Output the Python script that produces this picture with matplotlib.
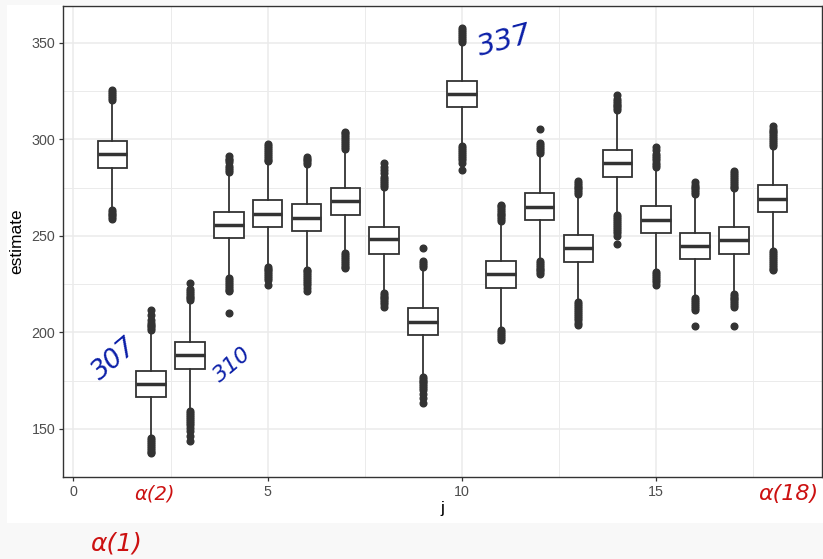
import matplotlib.pyplot as plt
from matplotlib.patches import Rectangle
from matplotlib.ticker import MultipleLocator

# boxplot summaries of the estimate for each j
j = list(range(1, 19))
q1 = [285.0, 166.2, 180.8, 249.0, 254.7, 252.4, 261.0, 240.8, 198.4,
      316.6, 223.0, 258.4, 236.5, 280.6, 251.6, 237.7, 240.7, 262.4]
med = [292.2, 173.3, 188.0, 255.7, 261.4, 259.3, 267.9, 248.1, 205.5,
       323.2, 230.0, 265.0, 243.4, 287.5, 258.4, 244.6, 247.6, 269.2]
q3 = [298.9, 179.9, 194.9, 262.4, 268.3, 266.2, 274.9, 254.7, 212.7,
      330.1, 236.8, 271.9, 250.3, 294.4, 265.3, 251.5, 254.5, 276.2]
whislo = [264.8, 146.8, 160.5, 229.6, 235.6, 233.6, 241.8, 221.8, 178.2,
          298.0, 202.5, 238.6, 216.8, 262.0, 232.6, 218.8, 221.2, 243.0]
whishi = [319.5, 199.5, 214.8, 281.5, 287.3, 285.3, 293.3, 274.2, 232.5,
          349.0, 256.0, 291.5, 270.0, 313.5, 284.2, 270.4, 273.0, 295.4]

out_hi = [
    [320.5, 321.5, 322.5, 323.5, 324.5, 325.3],
    [201, 202, 203, 204, 205, 206.5, 209, 211.5],
    [216.5, 217.5, 218.5, 219.5, 220.5, 221.5, 222.5, 225.5],
    [283, 284, 285, 286, 288, 289, 290, 291.2],
    [288.5, 289.5, 290.5, 291.5, 292.5, 293.5, 294.5, 295.5, 296.5, 297.5],
    [287, 288, 289, 290, 291],
    [295, 296, 297, 298, 299, 300, 301, 302, 303, 304],
    [275.5, 276.5, 277.5, 278.5, 279.5, 280.5, 282.5, 284, 285.5, 287.5],
    [234, 235, 236, 237, 243.6],
    [350.5, 351.5, 352.5, 353.5, 354.5, 355.5, 356.5, 357.5],
    [257.5, 258.5, 259.5, 260.5, 261.5, 262.5, 263.5, 264.5, 265.5, 266],
    [293, 294, 295, 296, 297, 298, 305.5],
    [271.5, 272.5, 273.5, 274.5, 275.5, 276.5, 277.5, 278.2],
    [315, 316, 317, 318, 319, 320, 321, 322.8],
    [285.5, 286.5, 287.5, 289, 290.5, 291.5, 292.5, 294.5, 296.2],
    [271.5, 272.5, 273.5, 274.5, 275.5, 276.5, 277.8],
    [274.5, 275.5, 276.5, 277.5, 278.5, 279.5, 280.5, 281.5, 282.5, 283.8],
    [296.5, 297.5, 298.5, 299.5, 300.5, 301.5, 302.5, 303.5, 304.5, 305.5, 306.8],
]
out_lo = [
    [263.5, 262.5, 261.5, 260.5, 259.5, 258.5],
    [145, 144, 143, 142, 141, 140, 139, 138, 137.5],
    [159, 158, 157, 156, 155, 154, 153, 152, 150.5, 149, 146.5, 143.5],
    [228, 227, 226, 225, 224, 223, 222, 221.5, 210.2],
    [234, 233, 232, 231, 230, 229, 228, 227, 224.5],
    [232.5, 231.5, 230.5, 229.5, 228.5, 227.5, 226.5, 225.5, 224.5, 223, 221.5],
    [241, 240, 239, 238, 237, 236, 235, 234, 233.5],
    [220.5, 219.5, 218.5, 217.5, 216.5, 215.5, 214.5, 213.2],
    [177, 176, 175, 174, 173, 172, 171, 170, 168, 166, 163.2],
    [296.5, 295.5, 294.5, 293.5, 292.5, 291.5, 290.5, 289.5, 287.5, 284.3],
    [201, 200, 199, 198, 197, 196],
    [237, 236, 235, 234, 233, 232, 231, 230.3],
    [215.5, 214.5, 213.5, 212.5, 211.5, 210.5, 209.5, 208.5, 207.5, 206.5, 205, 203.5],
    [260.5, 259.5, 258.5, 257.5, 256.5, 255.5, 254.5, 253.5, 252.5, 251.5, 250, 245.5],
    [231, 230, 229, 228, 227, 226, 224.5],
    [217.5, 216.5, 215.5, 214.5, 213.5, 212.5, 211.5, 203.4],
    [220, 219, 218, 217, 216, 215, 214, 213.2, 203.4],
    [242, 241, 240, 239, 238, 237, 236, 235, 234, 233, 232.3],
]

# hand-written notes: (text, x, y, size, rotation)
blue_notes = [("307", 1.05, 186, 19, 40), ("310", 4.1, 183, 16, 40),
              ("337", 11.1, 351, 21, 15)]
red_notes = [("α(2)", 155, 494, 14, 0), ("α(1)", 116, 544, 18, 0),
             ("α(18)", 788, 494, 16, 0)]

plt.rcParams['font.family'] = ['Liberation Sans', 'DejaVu Sans']

W, H = 823, 559
fig = plt.figure(figsize=(W / 100, H / 100), dpi=100)
fig.patch.set_facecolor('#f8f8f8')
fig.add_artist(Rectangle((7 / W, (H - 523) / H), (W - 7) / W, 518 / H,
                         transform=fig.transFigure, facecolor='white',
                         edgecolor='none', zorder=0))

ax = fig.add_axes([63 / W, (H - 477) / H, (822 - 63) / W, (477 - 5.7) / H])
ax.set_facecolor('white')

stats = []
for i in range(len(j)):
    stats.append(dict(med=med[i], q1=q1[i], q3=q3[i], whislo=whislo[i],
                      whishi=whishi[i], fliers=out_hi[i] + out_lo[i]))

dark = '#333333'
ax.bxp(stats, positions=j, widths=0.76, patch_artist=True, showcaps=False,
       boxprops=dict(facecolor='white', edgecolor=dark, linewidth=1.3),
       medianprops=dict(color=dark, linewidth=2.5, solid_capstyle='butt'),
       whiskerprops=dict(color=dark, linewidth=1.3),
       flierprops=dict(marker='o', markerfacecolor=dark, markeredgecolor=dark,
                       markersize=4.8, linestyle='none'),
       zorder=3)

ax.set_xlim(-0.27, 19.27)
ax.set_ylim(125, 369.2)
ax.xaxis.set_major_locator(MultipleLocator(5))
ax.xaxis.set_minor_locator(MultipleLocator(2.5))
ax.yaxis.set_major_locator(MultipleLocator(50))
ax.yaxis.set_minor_locator(MultipleLocator(25))
ax.set_xticks([0, 5, 10, 15])
ax.set_xticklabels(['0', '5', '10', '15'])
ax.set_yticks([150, 200, 250, 300, 350])

ax.grid(which='major', color='#ebebeb', linewidth=1.1, zorder=0)
ax.grid(which='minor', color='#ebebeb', linewidth=0.7, zorder=0)
ax.set_axisbelow(True)
ax.tick_params(which='major', length=3, width=0.9, color=dark,
               labelcolor='#4d4d4d', labelsize=10.3, pad=2.5)
ax.tick_params(which='minor', length=0)
for s in ax.spines.values():
    s.set_color(dark)
    s.set_linewidth(1.0)

ax.set_xlabel('j', fontsize=12.5, va='center')
ax.set_ylabel('estimate', fontsize=12.5, va='center')
ax.xaxis.set_label_coords(0.5, -(508 - 477) / 471)
ax.yaxis.set_label_coords(-(63 - 17) / 759, 0.5)

for txt, x, y, sz, rot in blue_notes:
    ax.text(x, y, txt, color='#0b1fa8', fontsize=sz, rotation=rot,
            ha='center', va='center', family='DejaVu Sans', style='italic',
            fontweight='light')
for txt, x, y, sz, rot in red_notes:
    fig.text(x / W, 1 - y / H, txt, color='#cc1111', fontsize=sz,
             rotation=rot, ha='center', va='center', family='DejaVu Sans',
             style='italic')

fig.savefig('out.png', dpi=100, facecolor=fig.get_facecolor())
